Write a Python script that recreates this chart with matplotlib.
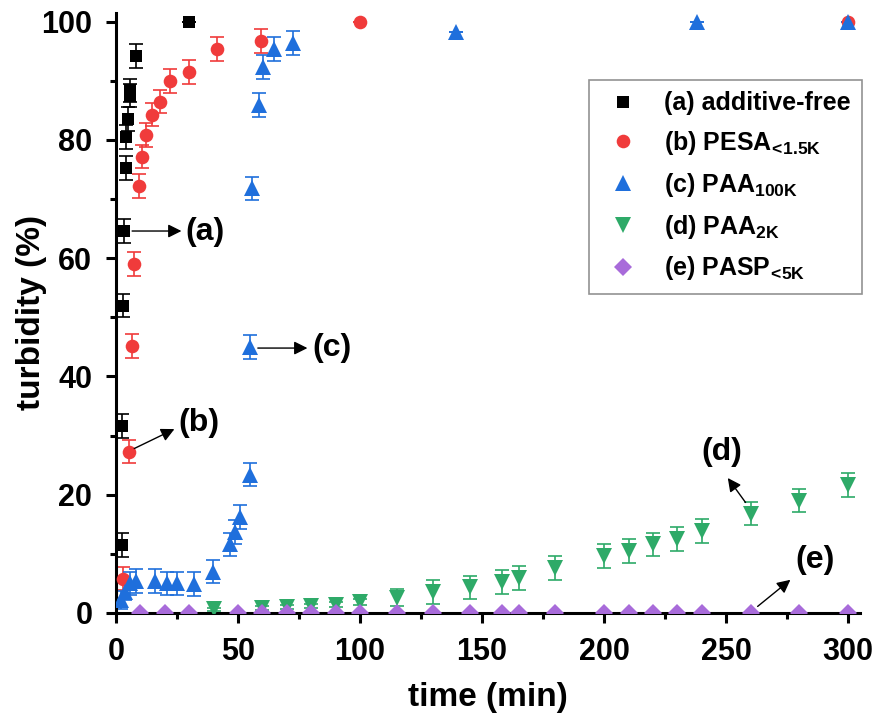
import numpy as np
import matplotlib
matplotlib.use('Agg')
import matplotlib.pyplot as plt

plt.rcParams['font.family'] = ['Liberation Sans', 'DejaVu Sans']
plt.rcParams['font.weight'] = 'bold'
plt.rcParams['mathtext.fontset'] = 'custom'
plt.rcParams['mathtext.rm'] = 'Liberation Sans:bold'
plt.rcParams['mathtext.bf'] = 'Liberation Sans:bold'
plt.rcParams['mathtext.default'] = 'bf'

# (a) additive-free
xa = [2.6, 2.6, 3.0, 3.4, 4.1, 4.2, 4.9, 5.6, 5.9, 8.2, 30]
ya = [11.5, 31.6, 52.0, 64.6, 75.3, 80.5, 83.5, 87.5, 88.4, 94.2, 100]
ea = [2, 2, 2, 2, 2, 2, 2, 2, 2, 2, 0]

# (b) PESA<1.5K
xb = [3.1, 5.2, 6.5, 7.6, 9.3, 10.6, 12.4, 14.7, 17.9, 22, 30, 41.6, 59.6, 100, 300]
yb = [5.8, 27.3, 45.2, 59.0, 72.2, 77.2, 80.8, 84.3, 86.5, 90.0, 91.5, 95.4, 96.7, 100, 100]
eb = [2, 2, 2, 2, 2, 2, 2, 2, 2, 2, 2, 2, 2, 0, 0]

# (c) PAA100K
xc = [2, 3.8, 5.9, 8.3, 16.1, 20.9, 25, 32.1, 39.8, 46.8, 48.6, 50.7, 54.8, 54.8,
      55.7, 58.6, 60.1, 64.9, 72.5, 139.5, 238, 300]
yc = [2.2, 3.6, 5.0, 5.4, 5.4, 5.0, 5.0, 4.9, 7.0, 11.6, 13.7, 16.2, 23.4, 45.0,
      71.8, 85.9, 92.3, 95.4, 96.4, 98.3, 100, 100]
ec = [1.5, 1.5, 2, 2, 2, 2, 2, 2, 2, 2, 2, 2, 2, 2,
      2, 2, 2, 2, 2, 0, 0, 0]

# (d) PAA2K
xd = [40, 60, 70, 80, 90, 100, 115, 130, 145, 158, 165, 180,
      200, 210, 220, 230, 240, 260, 280, 300]
yd = [0.6, 0.8, 1.0, 1.2, 1.4, 1.9, 2.6, 3.5, 4.3, 5.2, 5.9, 7.6,
      9.6, 10.5, 11.6, 12.5, 13.9, 16.8, 19.0, 21.6]
ed = [0.3, 0.3, 0.3, 0.3, 0.4, 0.5, 1.5, 2, 2, 2, 2, 2,
      2, 2, 2, 2, 2, 2, 2, 2]

# (e) PASP<5K
xe = [10, 20, 30, 50, 60, 70, 80, 90, 100, 115, 130, 145, 158, 165, 180,
      200, 210, 220, 230, 240, 260, 280, 300]
ye = [0.0] * len(xe)

labels = ['(a) additive-free', r'(b) PESA$_{\!<\!1.5K}$', r'(c) PAA$_{100K}$',
          r'(d) PAA$_{2K}$', r'(e) PASP$_{\!<\!5K}$']
colors = ['#000000', '#F03B3B', '#1F6FDC', '#2EAA68', '#A86BDA']

fig = plt.figure(figsize=(8.78, 7.16), dpi=100)
ax = fig.add_axes([0.132, 0.144, 0.848, 0.838])

series = [(xa, ya, ea, 's', 9.3), (xb, yb, eb, 'o', 9.8), (xc, yc, ec, '^', 12),
          (xd, yd, ed, 'v', 12), (xe, ye, None, 'D', 9.5)]
handles = []
for (x, y, e, m, ms), c, lab in zip(series, colors, labels):
    if e is not None:
        ax.errorbar(x, y, yerr=e, fmt='none', ecolor=c, elinewidth=1.2,
                    capsize=5, capthick=1.2, zorder=2)
    h, = ax.plot(x, y, m, color=c, ms=ms, mew=0, label=lab, zorder=3)
    handles.append(h)

ax.set_xlim(0, 305)
ax.set_ylim(0, 101.5)
ax.set_xticks([0, 50, 100, 150, 200, 250, 300])
ax.set_xticks([25, 75, 125, 175, 225, 275], minor=True)
ax.set_yticks([0, 20, 40, 60, 80, 100])
ax.set_yticks([10, 30, 50, 70, 90], minor=True)
for s in ['top', 'right']:
    ax.spines[s].set_visible(False)
for s in ['left', 'bottom']:
    ax.spines[s].set_linewidth(2.2)
ax.tick_params(which='major', length=7, width=2.2, labelsize=22, pad=10, direction='out')
ax.tick_params(which='minor', length=4, width=2.2, direction='out')
ax.set_xlabel('time (min)', fontsize=24, fontweight='bold', labelpad=11)
ax.set_ylabel('turbidity (%)', fontsize=24, fontweight='bold', labelpad=-4)

leg = ax.legend(handles=handles, loc='upper right', bbox_to_anchor=(0.982, 0.888),
                bbox_transform=fig.transFigure, fontsize=18, frameon=True,
                fancybox=False, edgecolor='#777777', handletextpad=0.75,
                labelspacing=0.55, borderpad=0.45, handlelength=1.8,
                borderaxespad=0)
leg.get_frame().set_linewidth(1.2)

arrow = dict(arrowstyle='-|>', color='black', lw=1.0, mutation_scale=20)
ax.annotate('', xy=(28, 64.6), xytext=(5.5, 64.6), arrowprops=arrow)
ax.text(28.5, 64.4, '(a)', fontsize=23, fontweight='bold', va='center')
ax.annotate('', xy=(25, 31.3), xytext=(6.5, 27.6), arrowprops=arrow)
ax.text(25.6, 32.2, '(b)', fontsize=23, fontweight='bold', va='center')
ax.annotate('', xy=(79.6, 44.8), xytext=(57, 44.8), arrowprops=arrow)
ax.text(80.3, 44.8, '(c)', fontsize=23, fontweight='bold', va='center')
ax.annotate('', xy=(250, 23.2), xytext=(258.6, 18.3), arrowprops=arrow)
ax.text(248.3, 27.2, '(d)', fontsize=23, fontweight='bold', ha='center', va='center')
ax.annotate('', xy=(277.2, 5.9), xytext=(262, 0.8), arrowprops=arrow)
ax.text(286.6, 8.9, '(e)', fontsize=23, fontweight='bold', ha='center', va='center')

fig.savefig('out.png', dpi=100)
